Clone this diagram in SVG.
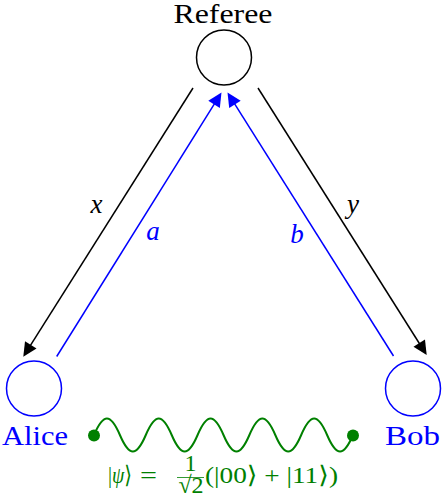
<svg xmlns="http://www.w3.org/2000/svg" width="442" height="498" viewBox="0 0 442 498" font-family="Liberation Serif, DejaVu Serif, Times New Roman, serif">
<style>
  .lbl { font-size: 27px; }
  .math { font-style: italic; font-size: 27px; }
  .node { fill: none; stroke-width: 1.5; }
  .conn { fill: none; stroke-width: 1.5; }
  .blk { stroke: #000; }
  .blu { stroke: #0000ff; }
  .frm { font-size: 24px; fill: #008000; }
</style>
<defs>
  <marker id="ahk" markerUnits="userSpaceOnUse" orient="auto" markerWidth="20" markerHeight="20" refX="0" refY="0" viewBox="-10 -8 20 16" overflow="visible">
    <path d="M6,0 L-8,-6.8 L-8,6.8 z" fill="#000"/>
  </marker>
  <marker id="ahb" markerUnits="userSpaceOnUse" orient="auto" markerWidth="20" markerHeight="20" refX="0" refY="0" viewBox="-10 -8 20 16" overflow="visible">
    <path d="M6,0 L-8,-6.8 L-8,6.8 z" fill="#0000ff"/>
  </marker>
</defs>
<rect width="442" height="498" fill="#fff"/>

<g id="referee">
  <circle class="node blk" cx="224" cy="57.5" r="27.5"/>
  <text class="lbl" x="223" y="23" text-anchor="middle" textLength="99" lengthAdjust="spacingAndGlyphs">Referee</text>
</g>
<g id="alice">
  <circle class="node blu" cx="34" cy="388.5" r="27.5"/>
  <text class="lbl" x="2" y="445" fill="#0000ff" textLength="66" lengthAdjust="spacingAndGlyphs">Alice</text>
</g>
<g id="bob">
  <circle class="node blu" cx="413" cy="388.5" r="27.5"/>
  <text class="lbl" x="385" y="445" fill="#0000ff" textLength="55" lengthAdjust="spacingAndGlyphs">Bob</text>
</g>

<g id="connectors">
  <line class="conn blk" x1="193" y1="88" x2="26.5" y2="351.6" marker-end="url(#ahk)"/>
  <line class="conn blk" x1="258" y1="88" x2="423.5" y2="350" marker-end="url(#ahk)"/>
  <line class="conn blu" x1="56.7" y1="356.5" x2="218.3" y2="97.6" marker-end="url(#ahb)"/>
  <line class="conn blu" x1="393.5" y1="356" x2="230.7" y2="97.6" marker-end="url(#ahb)"/>
  <text class="math" x="96.5" y="213" text-anchor="middle">x</text>
  <text class="math" x="353" y="213" text-anchor="middle">y</text>
  <text class="math" x="153" y="240" text-anchor="middle" fill="#0000ff">a</text>
  <text class="math" x="297" y="243" text-anchor="middle" fill="#0000ff">b</text>
</g>

<g id="entanglement">
  <path d="M94,435 c9.43,-22 16.47,-22 25.9,0 c9.43,22 16.47,22 25.9,0 c9.43,-22 16.47,-22 25.9,0 c9.43,22 16.47,22 25.9,0 c9.43,-22 16.47,-22 25.9,0 c9.43,22 16.47,22 25.9,0 c9.43,-22 16.47,-22 25.9,0 c9.43,22 16.47,22 25.9,0 c9.43,-22 16.47,-22 25.9,0 c9.43,22 16.47,22 25.9,0" fill="none" stroke="#008000" stroke-width="2"/>
  <circle cx="94" cy="435.5" r="6" fill="#008000"/>
  <circle cx="353" cy="435.5" r="6" fill="#008000"/>
  <text class="frm" x="108" y="483" textLength="24" lengthAdjust="spacingAndGlyphs">|<tspan font-style="italic">ψ</tspan>⟩</text>
  <text class="frm" x="140" y="483" textLength="17" lengthAdjust="spacingAndGlyphs">=</text>
  <text class="frm" x="190.5" y="471" text-anchor="middle" font-size="14">1</text>
  <line x1="177" y1="477.5" x2="204" y2="477.5" stroke="#008000" stroke-width="0.8"/>
  <text class="frm" x="191" y="493" text-anchor="middle" font-size="14">√2</text>
  <text class="frm" x="205" y="483" textLength="133" lengthAdjust="spacingAndGlyphs">(|00⟩ + |11⟩)</text>
</g>
</svg>
